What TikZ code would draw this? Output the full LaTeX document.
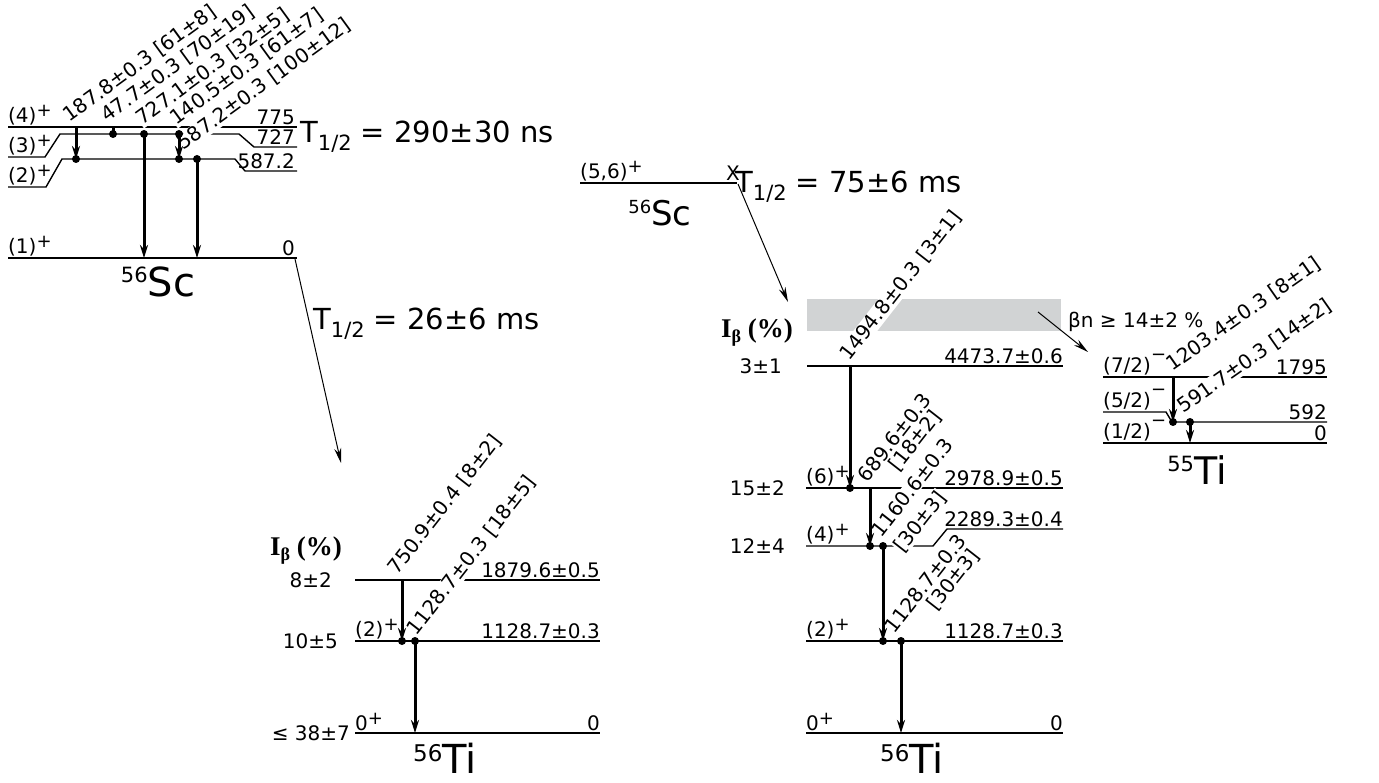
\documentclass[tikz,border=0pt]{standalone}
\usepackage{fontspec}
\setmainfont{DejaVu Sans}
\newfontfamily\ibfont{Liberation Serif}
\usetikzlibrary{arrows.meta}
\definecolor{bngray}{RGB}{209,211,212}
\newcommand{\labfont}{\fontsize{20}{21}\selectfont}
\newcommand{\hlfont}{\fontsize{29}{30}\selectfont}
\newcommand{\thalf}[1]{T\raisebox{-8pt}{\fontsize{21}{21}\selectfont 1/2} = #1}
\newcommand{\nucl}[5]{{\fontsize{#1}{#1}\selectfont\raisebox{#2}{\fontsize{#3}{#3}\selectfont #4}#5}}
\newcommand{\ibeta}{{\ibfont\fontsize{27}{27}\selectfont\bfseries I\raisebox{-5pt}{\fontsize{18}{18}\selectfont β} (\%)}}
\newcommand{\jplus}{\raisebox{6pt}{\fontsize{18}{18}\selectfont +}}
\newcommand{\jminus}{\raisebox{12pt}{\fontsize{18}{18}\selectfont −}}
\begin{document}
\begin{tikzpicture}[x=1pt, y=-1pt,
  every node/.style={font=\labfont, inner sep=0pt},
  lvl/.style={line width=1.4pt},
  gam/.style={line width=3pt, -{Stealth[length=13pt,width=8pt]}},
  gamline/.style={line width=3pt},
  bet/.style={line width=1pt, -{Stealth[length=15pt,width=7pt]}},
  spin/.style={anchor=south west},
  ener/.style={anchor=south east},
  gl/.style={fill=white, anchor=base west, inner sep=0.5pt}]
  \useasboundingbox (0,0) rectangle (1379,783);
  % 56Sc, isomer and ground state
  \coordinate (s775) at (0,127);
  \coordinate (s727) at (0,134);
  \coordinate (s587) at (0,159);
  \coordinate (s0) at (0,258);
  \draw[lvl] (8,127) -- (297,127);
  \draw[lvl] (8,157) -- (45,157) -- (60,134) -- (239,134) -- (254,147) -- (297,147);
  \draw[lvl] (8,187) -- (46,187) -- (62,159) -- (235,159) -- (245,171) -- (297,171);
  \draw[lvl] (8,258) -- (297,258);
  \node[spin] (sj4) at (8,125) {(4)\jplus};
  \node[spin] (sj3) at (8,155) {(3)\jplus};
  \node[spin] (sj2) at (8,185) {(2)\jplus};
  \node[spin] (sj1) at (8,256) {(1)\jplus};
  \node[ener] (se775) at (295,125) {775};
  \node[ener] (se727) at (295,145) {727};
  \node[ener] (se587) at (295,169) {587.2};
  \node[ener] (se0) at (295,256) {0};
  \node[gl, rotate=36] (sg187) at (69,123) {187.8±0.3 [61±8]};
  \node[gl, rotate=36] (sg47) at (107,123) {47.7±0.3 [70±19]};
  \node[gl, rotate=36] (sg727) at (142,126) {727.1±0.3 [32±5]};
  \node[gl, rotate=36] (sg140) at (176,126) {140.5±0.3 [61±7]};
  \node[gl, rotate=36] (sg587) at (183,151) {587.2±0.3 [100±12]};
  \draw[gam] (76,0 |- s775) -- (76,0 |- s587);
  \draw[gamline] (113,0 |- s775) -- (113,0 |- s727);
  \draw[gam] (144,0 |- s727) -- (144,0 |- s0);
  \draw[gam] (179,0 |- s727) -- (179,0 |- s587);
  \draw[gam] (197,0 |- s587) -- (197,0 |- s0);
  \fill (76,0 |- s587) circle (4pt);
  \fill (113,0 |- s727) circle (4pt);
  \fill (144,0 |- s727) circle (4pt);
  \fill (179,0 |- s727) circle (4pt);
  \fill (179,0 |- s587) circle (4pt);
  \fill (197,0 |- s587) circle (4pt);
  \node[anchor=north] (scA) at (158,267) {\nucl{40}{13.9pt}{21}{56}{Sc}};
  \node[anchor=base west, font=\hlfont] (hlA) at (300,143) {\thalf{290±30 ns}};
  \node[anchor=base west, font=\hlfont] (hlB) at (313,330) {\thalf{26±6 ms}};
  % beta decay of the ground state
  \coordinate (bAs) at (295,259);
  \coordinate (bAe) at (341,463);
  \draw[bet] (bAs) -- (bAe);
  % 56Ti fed from the ground state
  \coordinate (t1879) at (0,580);
  \coordinate (t1128) at (0,641);
  \coordinate (t0) at (0,733);
  \draw[lvl] (355,580) -- (600,580);
  \draw[lvl] (355,641) -- (600,641);
  \draw[lvl] (355,733) -- (600,733);
  \node[anchor=base west] (ibA) at (270,555) {\ibeta};
  \node[anchor=east] (ti8) at (332,580) {8±2};
  \node[anchor=east] (ti10) at (338,641) {10±5};
  \node[anchor=east] (ti38) at (350,733) {≤ 38±7};
  \node[spin] (tj2) at (355,639) {(2)\jplus};
  \node[spin] (tj0) at (355,731) {0\jplus};
  \node[ener] (te1879) at (600,578) {1879.6±0.5};
  \node[ener] (te1128) at (600,639) {1128.7±0.3};
  \node[ener] (te0) at (600,731) {0};
  \node[gl, rotate=52] (tg750) at (397,576) {750.9±0.4 [8±2]};
  \node[gl, rotate=52] (tg1128) at (416,637) {1128.7±0.3 [18±5]};
  \draw[gam] (402,0 |- t1879) -- (402,0 |- t1128);
  \draw[gam] (415,0 |- t1128) -- (415,0 |- t0);
  \fill (402,0 |- t1128) circle (4pt);
  \fill (415,0 |- t1128) circle (4pt);
  \node[anchor=north] (tiA) at (445,743) {\nucl{40}{12.4pt}{23}{56}{Ti}};
  % 56Sc high-spin state
  \draw[lvl, line width=2.2pt] (580,183) -- (737,183);
  \node[spin] (sj56) at (580,181) {(5,6)\jplus};
  \node[ener] (sx) at (740,181) {X};
  \node[anchor=north] (scB) at (660,200) {\nucl{34}{11.7pt}{18}{56}{Sc}};
  \coordinate (bBs) at (738,184);
  \coordinate (bBe) at (788,302);
  \draw[bet] (bBs) -- (bBe);
  % neutron unbound region
  \fill[bngray] (807,299) rectangle (1061,331);
  % 56Ti fed from the high-spin state
  \coordinate (r4473) at (0,366);
  \coordinate (r2978) at (0,488);
  \coordinate (r2289) at (0,546);
  \coordinate (r1128) at (0,641);
  \coordinate (r0) at (0,733);
  \draw[lvl] (807,366) -- (1063,366);
  \draw[lvl] (806,488) -- (1063,488);
  \draw[lvl] (806,546) -- (933,546) -- (947,529) -- (1063,529);
  \draw[lvl] (806,641) -- (1063,641);
  \draw[lvl] (806,733) -- (1063,733);
  \node[anchor=base west] (ibB) at (721,338) {\ibeta};
  \node[anchor=east] (ri3) at (782,366) {3±1};
  \node[anchor=east] (ri15) at (785,488) {15±2};
  \node[anchor=east] (ri12) at (785,546) {12±4};
  \node[spin] (rj6) at (806,486) {(6)\jplus};
  \node[spin] (rj4) at (806,544) {(4)\jplus};
  \node[spin] (rj2) at (806,639) {(2)\jplus};
  \node[spin] (rj0) at (806,731) {0\jplus};
  \node[ener] (re4473) at (1063,364) {4473.7±0.6};
  \node[ener] (re2978) at (1063,486) {2978.9±0.5};
  \node[ener] (re2289) at (1063,527) {2289.3±0.4};
  \node[ener] (re1128) at (1063,639) {1128.7±0.3};
  \node[ener] (re0) at (1063,731) {0};
  \node[gl, rotate=52] (rg1494) at (849,362) {1494.8±0.3 [3±1]};
  \node[gl, rotate=52] (rg689) at (867,484) {689.6±0.3};
  \node[gl, rotate=52] (rg689i) at (898,473) {[18±2]};
  \node[gl, rotate=52] (rg1160) at (881,539) {1160.6±0.3};
  \node[gl, rotate=52] (rg1160i) at (903,554) {[30±3]};
  \node[gl, rotate=52] (rg1128) at (894,635) {1128.7±0.3};
  \node[gl, rotate=52] (rg1128i) at (936,612) {[30±3]};
  \draw[gam] (850,0 |- r4473) -- (850,0 |- r2978);
  \draw[gam] (870,0 |- r2978) -- (870,0 |- r2289);
  \draw[gam] (883,0 |- r2289) -- (883,0 |- r1128);
  \draw[gam] (901,0 |- r1128) -- (901,0 |- r0);
  \fill (850,0 |- r2978) circle (4pt);
  \fill (870,0 |- r2289) circle (4pt);
  \fill (883,0 |- r2289) circle (4pt);
  \fill (883,0 |- r1128) circle (4pt);
  \fill (901,0 |- r1128) circle (4pt);
  \node[anchor=north] (tiB) at (912,743) {\nucl{40}{12.4pt}{23}{56}{Ti}};
  \node[anchor=base west, font=\hlfont] (hlC) at (735,193) {\thalf{75±6 ms}};
  % beta-delayed neutron branch to 55Ti
  \coordinate (p1795) at (0,377);
  \coordinate (p592) at (0,422);
  \coordinate (p0) at (0,443);
  \draw[lvl] (1103,377) -- (1327,377);
  \draw[lvl] (1103,412) -- (1166,412) -- (1172,422) -- (1327,422);
  \draw[lvl] (1103,443) -- (1327,443);
  \node[spin] (pj7) at (1103,375) {(7/2)\jminus};
  \node[spin] (pj5) at (1103,410) {(5/2)\jminus};
  \node[spin] (pj1) at (1103,441) {(1/2)\jminus};
  \node[ener] (pe1795) at (1327,375) {1795};
  \node[ener] (pe592) at (1327,420) {592};
  \node[ener] (pe0) at (1327,441) {0};
  \node[gl, rotate=35] (pg1203) at (1172,372) {1203.4±0.3 [8±1]};
  \node[gl, rotate=35] (pg591) at (1183,414) {591.7±0.3 [14±2]};
  \draw[gam] (1173,0 |- p1795) -- (1173,0 |- p592);
  \draw[gam] (1190,0 |- p592) -- (1190,0 |- p0);
  \fill (1173,0 |- p592) circle (4pt);
  \fill (1190,0 |- p592) circle (4pt);
  \node[anchor=north] (tiC) at (1197,455) {\nucl{38}{12.4pt}{21}{55}{Ti}};
  \coordinate (bCs) at (1038,312);
  \coordinate (bCe) at (1088,352);
  \draw[bet] (bCs) -- (bCe);
  \node[anchor=base west] (bn) at (1068,328) {βn ≥ 14±2 \%};
\end{tikzpicture}
\end{document}
